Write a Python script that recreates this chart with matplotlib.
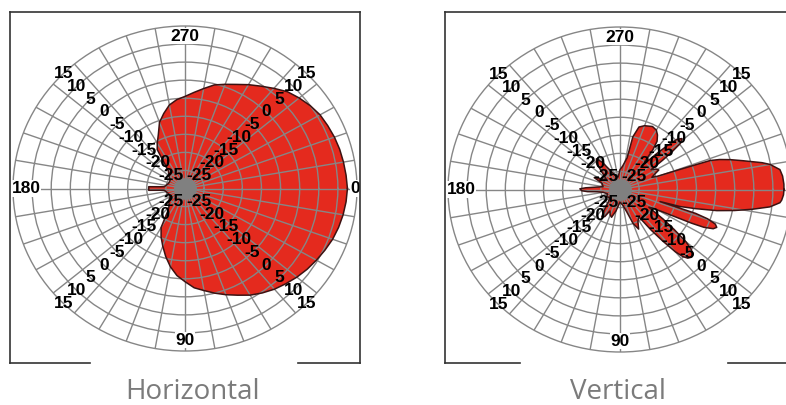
import numpy as np
import matplotlib
matplotlib.use("Agg")
import matplotlib.pyplot as plt
from matplotlib.lines import Line2D

# ---------------- data ----------------
# angles in degrees, measured clockwise from East (0 = right, 90 = bottom)
H_ANG = [0, 5, 10, 15, 20, 25, 30, 35, 40, 45, 50, 55, 60, 65, 70, 75, 80, 85,
         90, 95, 100, 105, 110, 115, 120, 123, 126, 130, 140, 150, 160, 170,
         175, 177, 183, 185, 190, 200, 210, 220, 228, 232, 236, 240, 245, 250,
         255, 260, 265, 270, 275, 280, 285, 290, 295, 300, 305, 310, 315, 320,
         325, 330, 335, 340, 345, 350, 355]
H_DB = [12.5, 12.3, 12.0, 11.6, 11.1, 10.4, 9.7, 9.0, 8.2, 7.3, 6.4, 5.3, 4.1,
        2.6, 1.3, 0.0, -1.3, -2.4, -4.2, -5.8, -8.0, -10.5, -13.0, -15.2,
        -17.5, -20.5, -22.5, -23.5, -24.5, -25.5, -25.5, -25.0, -24.5, -20.5,
        -20.5, -24.5, -25.0, -25.5, -25.5, -24.5, -23.5, -21.5, -17.0, -15.5,
        -13.5, -10.5, -8.5, -6.5, -5.3, -4.5, -3.3, -1.9, -0.3, 0.7, 1.8, 3.2,
        4.6, 6.2, 7.9, 9.0, 10.0, 10.8, 11.2, 11.6, 11.9, 12.1, 12.3]

V_ANG = [0, 2, 4, 5, 7, 9, 11, 13, 15, 16.7, 17.7, 18.5, 19.5, 21, 22.5, 24,
         25.5, 26.5, 27.5, 29, 31, 33, 36, 38, 40, 41.5, 43, 45, 47, 48.5, 50,
         52, 54, 57, 62, 66, 70, 74, 80, 90, 100, 106, 110, 114, 118, 122, 126,
         132, 140, 150, 160, 170, 174, 176, 178, 181, 183, 185, 190, 200, 206,
         212, 218, 226, 230, 234, 238, 244, 252, 262, 270, 276, 282, 283, 286,
         290, 296, 300, 303, 306, 308, 310, 312, 314, 315.5, 317, 319, 321,
         322.5, 324, 326, 329, 332, 335, 338, 339.5, 340.5, 341.2, 342.3, 344,
         346, 348.7, 350, 352.5, 355, 358]
V_DB = [12.9, 12.8, 12.4, 12.0, 9.5, 5.0, 0.5, -4.0, -9.5, -13.6, -19.0,
        -9.1, -5.7, -3.3, -2.6, -3.3, -5.7, -9.1, -13.3, -17.1, -20.0, -21.0,
        -16.0, -12.0, -7.5, -5.2, -4.0, -3.5, -4.0, -5.2, -7.5, -12.0, -16.0,
        -21.0, -20.0, -18.0, -20.0, -23.5, -25.5, -26.5, -24.0, -22.0, -22.5,
        -23.5, -21.5, -21.0, -23.0, -25.5, -26.5, -26.0, -26.5, -25.5, -24.0,
        -21.5, -20.0, -19.5, -21.0, -23.0, -25.5, -25.0, -22.5, -24.5, -25.5,
        -23.0, -20.5, -19.5, -21.0, -24.0, -26.0, -26.5, -24.5, -23.5, -21.0,
        -15.0, -12.0, -11.2, -10.6, -11.0, -12.0, -13.5, -16.0, -20.0, -20.2,
        -16.2, -12.8, -9.6, -8.5, -9.6, -12.8, -16.2, -20.2, -19.0, -18.5,
        -20.0, -21.0, -19.5, -13.3, -5.1, -2.7, 0.0, 3.0, 7.9, 9.9, 12.2,
        12.7, 12.9]

R_MIN, R_MAX = -30, 15
RING_DB = [-25, -20, -15, -10, -5, 0, 5, 10]
SPOKE_STEP = 10
RADIAL_LABELS = [15, 10, 5, 0, -5, -10, -15, -20, -25]
LABEL_DIAGONALS = [45, 135, 225, 315]
ANGLE_LABEL_POS = {"0": (0, 14.5), "90": (90, 12.0), "180": (180, 11.6), "270": (270, 12.2)}
CENTER_DB = -27.0
TITLES = ["Horizontal", "Vertical"]

RED = "#E42A1E"
EDGE = "#3c1212"
GRID = "#868686"

W, H = 786, 405
fig = plt.figure(figsize=(W / 100, H / 100), dpi=100)


def px_rect(cx, cy, rx, ry):
    return [(cx - rx) / W, (H - (cy + ry)) / H, 2 * rx / W, 2 * ry / H]


def draw_panel(rect, ang, db, angle_labels):
    ax = fig.add_axes(rect, projection="polar")
    ax.set_theta_zero_location("E")
    ax.set_theta_direction(-1)
    ax.set_ylim(R_MIN, R_MAX)
    ax.set_yticks(RING_DB)
    ax.set_xticks(np.deg2rad(np.arange(0, 360, SPOKE_STEP)))
    ax.set_xticklabels([])
    ax.set_yticklabels([])
    ax.tick_params(length=0)
    ax.grid(True, color=GRID, lw=1.0)
    ax.spines["polar"].set_color(GRID)
    ax.spines["polar"].set_linewidth(1.0)
    ax.set_aspect("auto")

    th = np.deg2rad(np.array(list(ang) + [ang[0]], dtype=float))
    r = np.array(list(db) + [db[0]], dtype=float)
    ax.fill(th, r, color=RED, lw=0, zorder=1)
    ax.plot(th, r, color=EDGE, lw=1.1, zorder=2)

    circ = np.deg2rad(np.arange(0, 361, 5))
    ax.fill_between(circ, R_MIN, CENTER_DB, color="#808080", lw=0, zorder=2.5)

    for d in LABEL_DIAGONALS:
        for v in RADIAL_LABELS:
            ax.text(np.deg2rad(d), v, str(v), ha="center", va="center",
                    fontsize=12.5, fontweight="bold", family="Liberation Sans",
                    color="black", zorder=4)
    for lab in angle_labels:
        a, rr = ANGLE_LABEL_POS[lab]
        ax.text(np.deg2rad(a), rr, lab, ha="center", va="center",
                fontsize=12.5, fontweight="bold", family="Liberation Sans",
                color="black", zorder=4,
                bbox=dict(fc="white", ec="none", pad=0.5))
    return ax


draw_panel(px_rect(185, 188.5, 172, 162.5), H_ANG, H_DB, ["0", "90", "180", "270"])
# the right panel is cropped at the picture edge: its "0" label lies outside
draw_panel(px_rect(620, 189.5, 172, 162.5), V_ANG, V_DB, ["90", "180", "270"])


def seg(x0, y0, x1, y1):
    fig.add_artist(Line2D([x0 / W, x1 / W], [1 - y0 / H, 1 - y1 / H],
                          transform=fig.transFigure, color="#333333", lw=1.2))


# left frame
seg(10, 12, 360, 12)
seg(10, 12, 10, 363)
seg(360, 12, 360, 363)
seg(10, 363, 90, 363)
seg(298, 363, 360, 363)
# right frame
seg(445, 12, 786, 12)
seg(445, 12, 445, 363)
seg(445, 363, 520, 363)
seg(728, 363, 786, 363)

fig.text(193 / W, 6 / H, TITLES[0], ha="center", va="baseline", fontsize=20,
         color="#7b7b7b", family="Open Sans")
fig.text(618 / W, 6 / H, TITLES[1], ha="center", va="baseline", fontsize=20,
         color="#7b7b7b", family="Open Sans")

fig.savefig("out.png", dpi=100)
